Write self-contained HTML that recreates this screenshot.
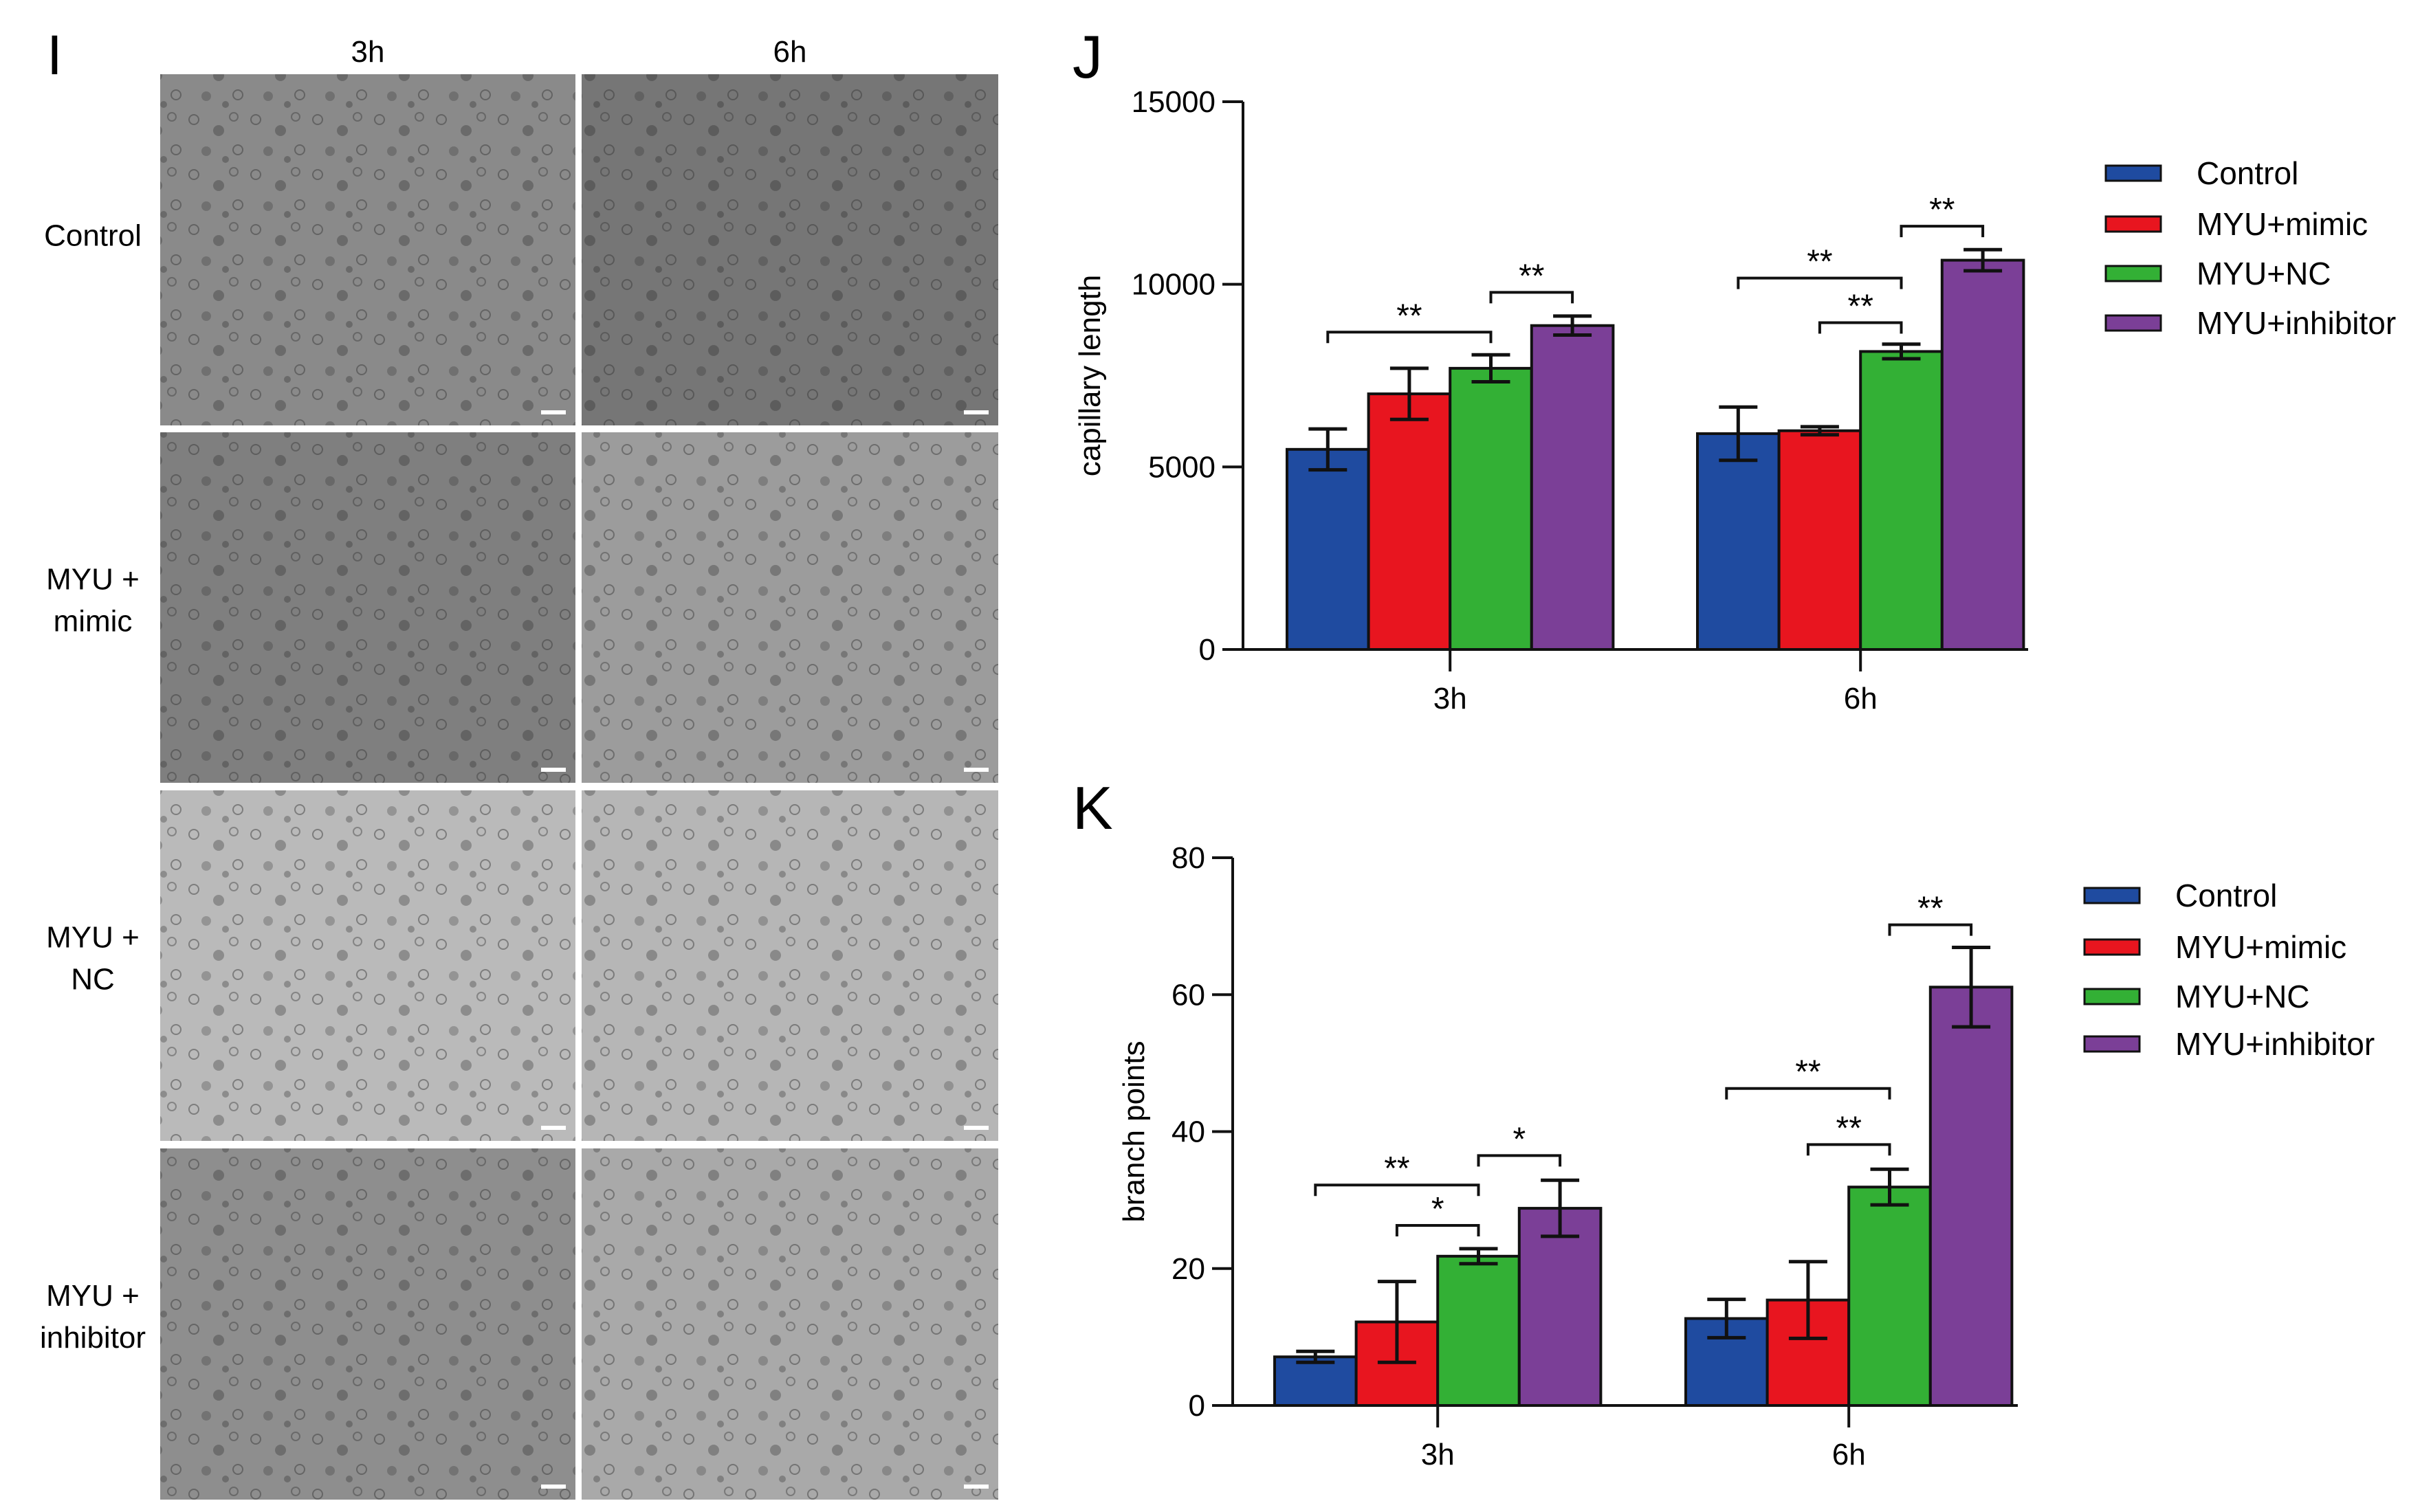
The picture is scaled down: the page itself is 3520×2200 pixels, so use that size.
<!DOCTYPE html>
<html><head><meta charset="utf-8"><style>
html,body{margin:0;padding:0;background:#fff;}
svg{display:block;font-family:"Liberation Sans",Arial,sans-serif;}
</style></head><body>
<svg id="fig" width="3520" height="2200" viewBox="0 0 3520 2200" xmlns="http://www.w3.org/2000/svg">
<defs>
<pattern id="cells" width="90" height="80" patternUnits="userSpaceOnUse">
<circle cx="12" cy="14" r="7" fill="none" stroke="#333" stroke-opacity="0.45" stroke-width="2"/>
<circle cx="48" cy="30" r="8" fill="#222" fill-opacity="0.3"/>
<circle cx="70" cy="10" r="6" fill="none" stroke="#333" stroke-opacity="0.4" stroke-width="2"/>
<circle cx="30" cy="60" r="7" fill="#222" fill-opacity="0.25"/>
<circle cx="76" cy="58" r="7" fill="none" stroke="#333" stroke-opacity="0.45" stroke-width="2"/>
<circle cx="58" cy="72" r="5" fill="#222" fill-opacity="0.3"/>
</pattern>
</defs>
<text x="68" y="108" font-size="82">I</text>
<g id="panelI"></g>
<g id="chartJ"></g>
<g id="chartK"></g>
</svg>
<script>
const NS='http://www.w3.org/2000/svg';
const categories=['3h','6h'];
const seriesNames=['Control','MYU+mimic','MYU+NC','MYU+inhibitor'];
const colors=['#1f4ba0','#e8151f','#33b035','#7b3f97'];
const jTicks=[0,5000,10000,15000];
const jControl=[5480,5910], jMimic=[7000,5990], jNC=[7700,8160], jInhib=[8870,10660];
const jErrControl=[560,730], jErrMimic=[700,110], jErrNC=[370,200], jErrInhib=[260,290];
const jSig=[[0,0,2,8690,'**'],[0,2,3,9780,'**'],[1,0,2,10170,'**'],[1,1,2,8950,'**'],[1,2,3,11590,'**']];
const kTicks=[0,20,40,60,80];
const kControl=[7.1,12.7], kMimic=[12.2,15.4], kNC=[21.8,31.9], kInhib=[28.8,61.1];
const kErrControl=[0.8,2.8], kErrMimic=[5.9,5.6], kErrNC=[1.1,2.6], kErrInhib=[4.1,5.8];
const kSig=[[0,0,2,32.2,'**'],[0,1,2,26.3,'*'],[0,2,3,36.5,'*'],[1,0,2,46.3,'**'],[1,1,2,38.1,'**'],[1,2,3,70.2,'**']];
const rowLabels=[['Control'],['MYU +','mimic'],['MYU +','NC'],['MYU +','inhibitor']];
const colLabels=['3h','6h'];
const shades=[['#8a8a8a','#767676'],['#7f7f7f','#9c9c9c'],['#bababa','#b6b6b6'],['#8e8e8e','#a9a9a9']];

function mk(tag,attrs,parent,text){const e=document.createElementNS(NS,tag);for(const k in attrs)e.setAttribute(k,attrs[k]);if(text!==undefined)e.textContent=text;parent.appendChild(e);return e;}

// Panel I
const pI=document.getElementById('panelI');
const colX=[[233,837],[846,1452]], rowY=[[108,619],[629,1139],[1150,1660],[1671,2182]];
colLabels.forEach((c,i)=>{const t=mk('text',{x:(colX[i][0]+colX[i][1])/2,y:90,'font-size':44,'text-anchor':'middle'},pI,c);

});
rowY.forEach((r,ri)=>{
  const lines=rowLabels[ri];const cy=(r[0]+r[1])/2 - (lines.length===1?22:12);
  lines.forEach((l,li)=>{const t=mk('text',{x:135,y:cy+16+(li-(lines.length-1)/2)*61,'font-size':44,'text-anchor':'middle'},pI,l);
  
  });
  colX.forEach((c,ci)=>{
    const g=mk('g',{},pI);
    
    
    mk('rect',{x:c[0],y:r[0],width:c[1]-c[0],height:r[1]-r[0],fill:shades[ri][ci]},g);
    mk('rect',{x:c[0],y:r[0],width:c[1]-c[0],height:r[1]-r[0],fill:'url(#cells)'},g);
    const sb=mk('rect',{x:c[1]-50,y:r[1]-22,width:36,height:6,fill:'#fff'},g);
    
    
  });
});

function drawChart(gid,cfg){
  const g=document.getElementById(gid);
  const means=cfg.means, errs=cfg.errs;
  const yScale=v=>cfg.y0-(v/cfg.max)*(cfg.y0-cfg.yTop);
  const bw=cfg.bw;
  const barX=(ci,si)=>cfg.catStart[ci]+si*bw;
  const barC=(ci,si)=>barX(ci,si)+bw/2;
  mk('text',{x:cfg.lx,y:cfg.ly,'font-size':88},g,cfg.letter);
  means.forEach((arr,si)=>arr.forEach((v,ci)=>{
    const b=mk('rect',{x:barX(ci,si),y:yScale(v),width:bw,height:cfg.y0-yScale(v),fill:colors[si],stroke:'#111','stroke-width':4},g);
    
    
    const e=errs[si][ci],cx=barC(ci,si);
    const eb=mk('path',{d:`M${cx},${yScale(v+e)}V${yScale(v-e)}M${cx-28},${yScale(v+e)}H${cx+28}M${cx-28},${yScale(v-e)}H${cx+28}`,stroke:'#111','stroke-width':5,fill:'none'},g);
    
    
  }));
  const ax=mk('path',{d:`M${cfg.ax},${cfg.yTop}V${cfg.y0}M${cfg.ax-30},${cfg.y0}H${cfg.xEnd}`,stroke:'#111','stroke-width':4,fill:'none'},g);
  
  
  cfg.ticks.forEach(t=>{
    mk('path',{d:`M${cfg.ax-30},${yScale(t)}H${cfg.ax}`,stroke:'#111','stroke-width':4},g);
    const tl=mk('text',{x:cfg.ax-40,y:yScale(t)+15,'font-size':44,'text-anchor':'end'},g,String(t));
    
    
  });
  categories.forEach((c,ci)=>{
    const cx=cfg.catStart[ci]+2*bw;
    mk('path',{d:`M${cx},${cfg.y0}V${cfg.y0+32}`,stroke:'#111','stroke-width':4},g);
    const xl=mk('text',{x:cx,y:cfg.y0+86,'font-size':44,'text-anchor':'middle'},g,c);
    
    
  });
  const yt=mk('text',{x:0,y:0,'font-size':44,'text-anchor':'middle',transform:`translate(${cfg.titleX},${(cfg.y0+cfg.yTop)/2}) rotate(-90)`},g,cfg.title);
  
  
  cfg.sig.forEach(s=>{
    const x1=barC(s[0],s[1]),x2=barC(s[0],s[2]),y=yScale(s[3]);
    const br=mk('path',{d:`M${x1},${y+16}V${y}H${x2}V${y+16}`,stroke:'#111','stroke-width':4,fill:'none'},g);
    
    
    const st=mk('text',{x:(x1+x2)/2,y:y-8,'font-size':48,'text-anchor':'middle'},g,s[4]);
    
    
  });
  seriesNames.forEach((n,si)=>{
    const y=cfg.legY[si];
    const le=mk('g',{},g);
    
    
    mk('rect',{x:cfg.legX,y:y-11,width:80,height:22,fill:colors[si],stroke:'#111','stroke-width':3},le);
    mk('text',{x:cfg.legX+132,y:y+16,'font-size':46},le,n);
  });
}
drawChart('chartJ',{letter:'J',lx:1560,ly:113,means:[jControl,jMimic,jNC,jInhib],errs:[jErrControl,jErrMimic,jErrNC,jErrInhib],
  y0:945,yTop:148,max:15000,ticks:jTicks,ax:1808,xEnd:2950,bw:118.6,catStart:[1872,2469],sig:jSig,
  title:'capillary length',titleX:1600,legX:3063,legY:[252,326,398,470]});
drawChart('chartK',{letter:'K',lx:1560,ly:1206,means:[kControl,kMimic,kNC,kInhib],errs:[kErrControl,kErrMimic,kErrNC,kErrInhib],
  y0:2045,yTop:1248,max:80,ticks:kTicks,ax:1793,xEnd:2935,bw:118.6,catStart:[1854,2452],sig:kSig,
  title:'branch points',titleX:1664,legX:3032,legY:[1303,1378,1450,1519]});
</script>
</body></html>
